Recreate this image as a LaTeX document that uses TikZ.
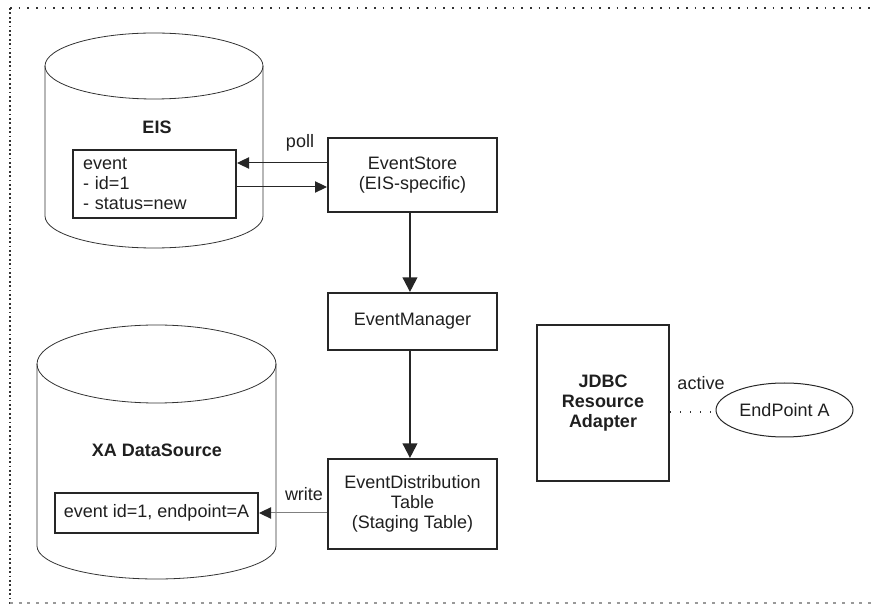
\documentclass[tikz,border=0pt]{standalone}
\usepackage{fontspec}
\setmainfont{Liberation Sans}
\usetikzlibrary{arrows.meta,shapes.geometric}

\tikzset{
  lbl/.style={font=\fontsize{13.5}{15}\selectfont, text=black!88, inner sep=0pt},
  boldlbl/.style={lbl, font=\fontsize{13.5}{15}\selectfont\bfseries},
  box/.style={draw=black!85, line width=1.5pt, font=\fontsize{13.5}{15}\selectfont,
    text=black!88, align=center, inner sep=2pt},
  thinarrow/.style={line width=0.75pt, draw=black!85, -{Triangle[length=9pt,width=8.5pt]}},
  thickarrow/.style={line width=1.5pt, draw=black!85, -{Triangle[length=11pt,width=11pt]}},
  cyl/.style={draw=black!80, line width=0.6pt},
}

\begin{document}
\begin{tikzpicture}[x=0.75pt, y=-0.75pt]
\useasboundingbox (0,0) rectangle (871,605);

% outer frame
\draw[black!80, line width=1.3pt, dash pattern=on 1.3pt off 5.2pt] (10,8) -- (871,8);
\draw[black!80, line width=1.3pt, dash pattern=on 1.3pt off 2pt] (10,8) -- (10,604);
\draw[black!40, line width=0.9pt, dash pattern=on 2.2pt off 4.3pt] (10,603) -- (871,603);

% EIS cylinder
\draw[cyl] (154,66) ellipse [x radius=109, y radius=33];
\draw[cyl] (45,66) -- (45,216) arc[start angle=180, end angle=0, x radius=109, y radius=32] -- (263,66);

% XA DataSource cylinder
\draw[cyl] (156.5,364) ellipse [x radius=119.5, y radius=39];
\draw[cyl] (37,364) -- (37,546) arc[start angle=180, end angle=0, x radius=119.5, y radius=33] -- (276,364);

% labels of the stores
\node[boldlbl] (eislbl) at (157,127) {EIS};
\node[boldlbl] (xalbl) at (157,450) {XA DataSource};

% records held in the stores
\node[box, minimum width={163*0.75pt}, minimum height={68*0.75pt}, text width={143*0.75pt}, align=left]
  (evt) at (154.5,184) {event\\- id=1\\- status=new};
\node[box, minimum width={203*0.75pt}, minimum height={40*0.75pt}] (xabox) at (156.5,513) {event id=1, endpoint=A};

% components
\node[box, minimum width={169*0.75pt}, minimum height={74*0.75pt}] (es) at (412.5,175) {EventStore\\(EIS-specific)};
\node[box, minimum width={169*0.75pt}, minimum height={57*0.75pt}] (em) at (412.5,321.5) {EventManager};
\node[box, minimum width={169*0.75pt}, minimum height={90*0.75pt}] (ed) at (412.5,504) {EventDistribution\\Table\\(Staging Table)};
\node[box, minimum width={132*0.75pt}, minimum height={156*0.75pt}, font=\fontsize{13.5}{15}\selectfont\bfseries] (jdbc) at (603,403) {JDBC\\Resource\\Adapter};
\node[ellipse, draw=black!85, line width=0.75pt, minimum width={137*0.75pt}, minimum height={54*0.75pt},
  font=\fontsize{13.5}{15}\selectfont, text=black!88, inner sep=0pt] (ep) at (784.5,410) {EndPoint A};

% poll / read-back arrows
\coordinate (pollpt) at ([yshift=9pt]es.west);
\coordinate (backpt) at ([yshift=-9pt]es.west);
\draw[thinarrow] (pollpt) -- (pollpt -| evt.east);
\draw[thinarrow] (backpt -| evt.east) -- (backpt);
\node[lbl] (polllbl) at (300,143) {poll};

% processing chain
\draw[thickarrow] ([xshift=-1.9pt]es.south) -- ([xshift=-1.9pt]em.north);
\draw[thickarrow] ([xshift=-1.9pt]em.south) -- ([xshift=-1.9pt]ed.north);

% write to the data source
\draw[line width=0.75pt, draw=black!50, -{Triangle[length=9pt,width=8.5pt,color=black!85]}] (ed.west |- xabox.east) -- (xabox.east);
\node[lbl] (writelbl) at (304,494) {write};

% endpoint activation
\draw[black!80, line width=1pt, dash pattern=on 1pt off 6.5pt] (jdbc.east |- 0,412) -- (ep.west |- 0,412);
\node[lbl] (activelbl) at (701,383) {active};
\end{tikzpicture}
\end{document}
